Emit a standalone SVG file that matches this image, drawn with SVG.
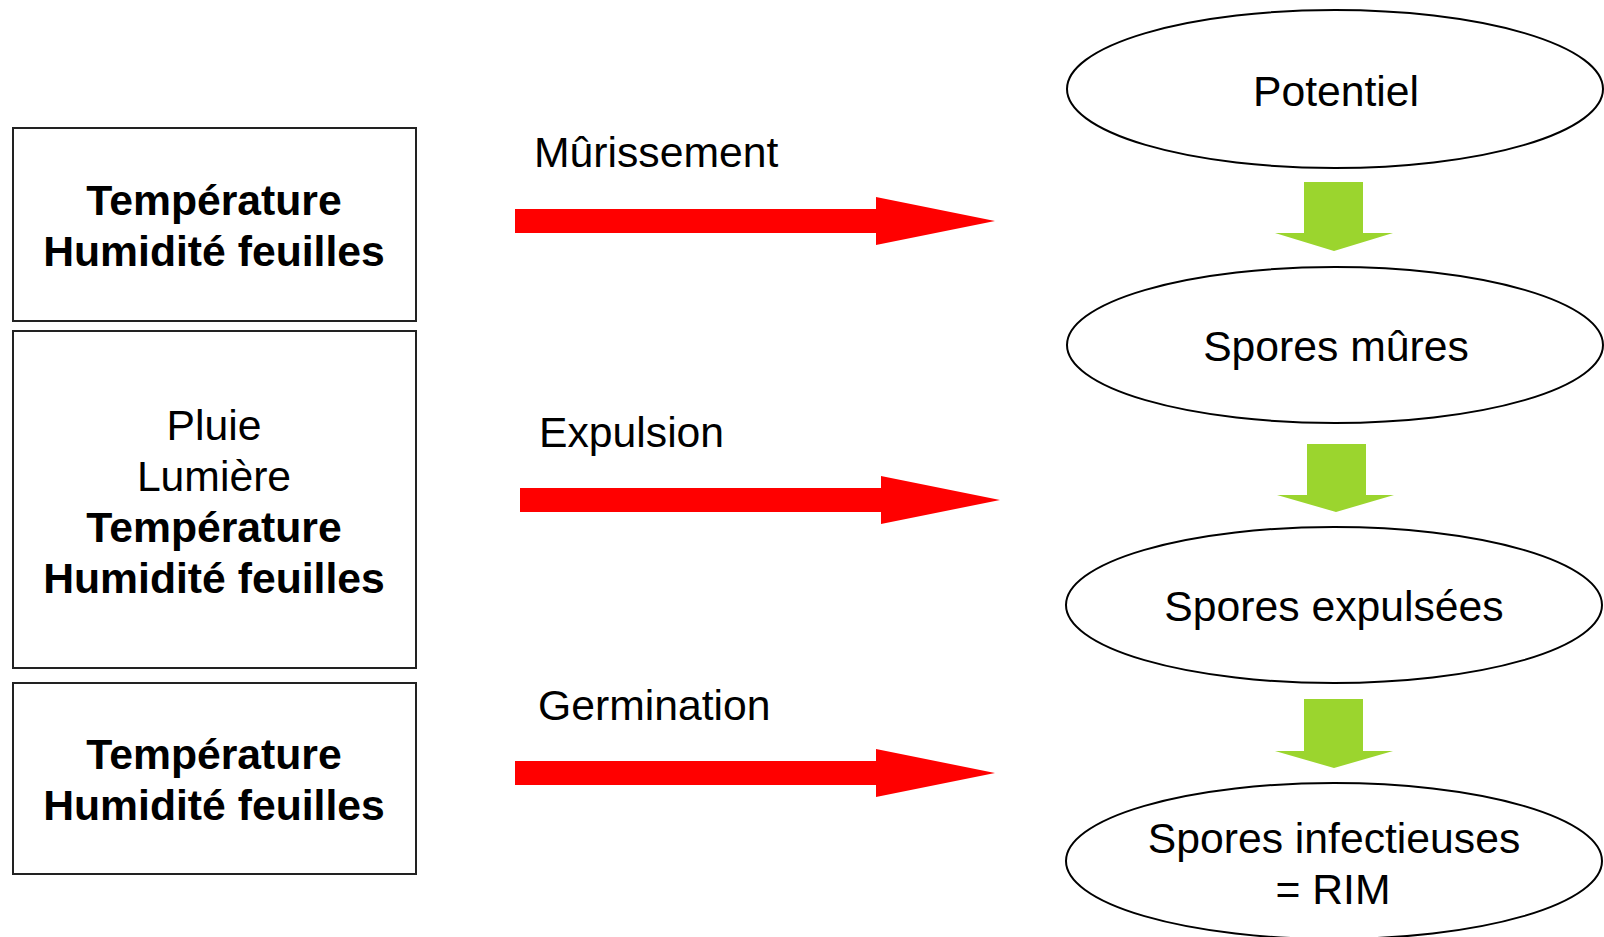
<svg xmlns="http://www.w3.org/2000/svg" width="1604" height="937" viewBox="0 0 1604 937">
<style>
.box{fill:#fff;stroke:#222;stroke-width:2}
.ell{fill:#fff;stroke:#000;stroke-width:2}
.t{font-family:"Liberation Sans",Arial,sans-serif;font-size:42.7px;fill:#000;text-anchor:middle}
.b{font-weight:bold}
.lbl{font-family:"Liberation Sans",Arial,sans-serif;font-size:42.7px;fill:#000}
.red{fill:#ff0000}
.grn{fill:#9bd52e}
</style>
<rect width="1604" height="937" fill="#fff"/>
<g id="box1">
<rect class="box" x="13" y="128" width="403" height="193"/>
<text class="t b" x="214" y="215">Température</text>
<text class="t b" x="214" y="266">Humidité feuilles</text>
</g>
<g id="box2">
<rect class="box" x="13" y="331" width="403" height="337"/>
<text class="t" x="214" y="440">Pluie</text>
<text class="t" x="214" y="491">Lumière</text>
<text class="t b" x="214" y="542">Température</text>
<text class="t b" x="214" y="593">Humidité feuilles</text>
</g>
<g id="box3">
<rect class="box" x="13" y="683" width="403" height="191"/>
<text class="t b" x="214" y="769">Température</text>
<text class="t b" x="214" y="820">Humidité feuilles</text>
</g>
<g id="e1">
<ellipse class="ell" cx="1335" cy="89" rx="268" ry="79"/>
<text class="t" x="1336" y="106">Potentiel</text>
</g>
<g id="e2">
<ellipse class="ell" cx="1335" cy="345" rx="268" ry="78"/>
<text class="t" x="1336" y="361">Spores mûres</text>
</g>
<g id="e3">
<ellipse class="ell" cx="1334" cy="605" rx="268" ry="78"/>
<text class="t" x="1334" y="621">Spores expulsées</text>
</g>
<g id="e4">
<ellipse class="ell" cx="1334" cy="861" rx="268" ry="78"/>
<text class="t" x="1334" y="853">Spores infectieuses</text>
<text class="t" x="1333" y="904">= RIM</text>
</g>
<g id="connectors">
<polygon class="red" points="515,209 876,209 876,197 995,221 876,245 876,233 515,233"/>
<text class="lbl" x="534" y="167">Mûrissement</text>
<polygon class="red" points="520,488 881,488 881,476 1000,500 881,524 881,512 520,512"/>
<text class="lbl" x="539" y="447">Expulsion</text>
<polygon class="red" points="515,761 876,761 876,749 995,773 876,797 876,785 515,785"/>
<text class="lbl" x="538" y="720">Germination</text>
<polygon class="grn" points="1304,182 1363,182 1363,233 1393,233 1334,251 1275,233 1304,233"/>
<polygon class="grn" points="1307,444 1366,444 1366,495 1394,495 1336,512 1277,495 1307,495"/>
<polygon class="grn" points="1304,699 1363,699 1363,751 1393,751 1334,768 1275,751 1304,751"/>
</g>
</svg>
